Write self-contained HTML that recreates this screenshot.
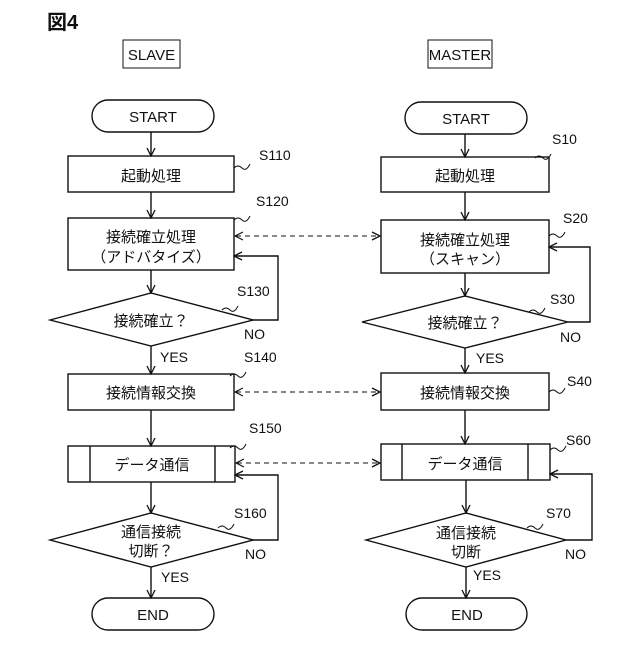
<!DOCTYPE html>
<html><head><meta charset="utf-8"><style>
html,body{margin:0;padding:0;background:#fff}
svg text{font-family:"Liberation Sans Narrow","Liberation Sans","Noto Sans CJK JP",sans-serif;fill:#111}
</style></head><body>
<svg width="640" height="640" viewBox="0 0 640 640" xmlns="http://www.w3.org/2000/svg">
<defs>
<marker id="a" markerWidth="10" markerHeight="10" refX="9" refY="5" orient="auto" markerUnits="userSpaceOnUse">
<path d="M1,1 L9,5 L1,9" fill="none" stroke="#111" stroke-width="1.3"/></marker>
</defs>
<g fill="none" stroke="#111" stroke-width="1.4">
<!-- slave -->
<rect x="123" y="40" width="57" height="28" stroke-width="1"/>
<rect x="92" y="100" width="122" height="32" rx="16"/>
<rect x="68" y="156" width="166" height="36"/>
<rect x="68" y="218" width="166" height="52"/>
<polygon points="50,320 151,293 253,320 151,346"/>
<rect x="68" y="374" width="166" height="36"/>
<rect x="68" y="446" width="167" height="36"/>
<line x1="90" y1="446" x2="90" y2="482"/><line x1="215" y1="446" x2="215" y2="482"/>
<polygon points="50,540 151,513 253,540 151,567"/>
<rect x="92" y="598" width="122" height="32" rx="16"/>
<line x1="151" y1="132" x2="151" y2="156" marker-end="url(#a)"/>
<line x1="151" y1="192" x2="151" y2="218" marker-end="url(#a)"/>
<line x1="151" y1="270" x2="151" y2="293" marker-end="url(#a)"/>
<line x1="151" y1="346" x2="151" y2="374" marker-end="url(#a)"/>
<line x1="151" y1="410" x2="151" y2="446" marker-end="url(#a)"/>
<line x1="151" y1="482" x2="151" y2="513" marker-end="url(#a)"/>
<line x1="151" y1="567" x2="151" y2="598" marker-end="url(#a)"/>
<polyline points="253,320 278,320 278,256 234,256" marker-end="url(#a)"/>
<polyline points="253,540 278,540 278,475 235,475" marker-end="url(#a)"/>
<!-- master -->
<rect x="428" y="40" width="64" height="28" stroke-width="1"/>
<rect x="405" y="102" width="122" height="32" rx="16"/>
<rect x="381" y="157" width="168" height="35"/>
<rect x="381" y="220" width="168" height="53"/>
<polygon points="362,322 465,296 568,322 465,348"/>
<rect x="381" y="373" width="168" height="37"/>
<rect x="381" y="444" width="169" height="36"/>
<line x1="402" y1="444" x2="402" y2="480"/><line x1="528" y1="444" x2="528" y2="480"/>
<polygon points="366,540 466,513 566,540 466,567"/>
<rect x="406" y="598" width="121" height="32" rx="16"/>
<line x1="465" y1="134" x2="465" y2="157" marker-end="url(#a)"/>
<line x1="465" y1="192" x2="465" y2="220" marker-end="url(#a)"/>
<line x1="465" y1="273" x2="465" y2="296" marker-end="url(#a)"/>
<line x1="465" y1="348" x2="465" y2="373" marker-end="url(#a)"/>
<line x1="465" y1="410" x2="465" y2="444" marker-end="url(#a)"/>
<line x1="466" y1="480" x2="466" y2="513" marker-end="url(#a)"/>
<line x1="466" y1="567" x2="466" y2="598" marker-end="url(#a)"/>
<polyline points="568,322 590,322 590,247 549,247" marker-end="url(#a)"/>
<polyline points="566,540 592,540 592,474 550,474" marker-end="url(#a)"/>
<!-- dashed -->
<g stroke-dasharray="5,4" stroke-width="1.1">
<line x1="236" y1="236" x2="380" y2="236" marker-end="url(#a)" marker-start="url(#b)"/>
<line x1="236" y1="392" x2="380" y2="392" marker-end="url(#a)"/>
<line x1="237" y1="463" x2="380" y2="463" marker-end="url(#a)"/>
</g>
<g stroke-width="1.1">
<path d="M243,232 L235,236 L243,240"/><path d="M243,388 L235,392 L243,396"/><path d="M244,459 L236,463 L244,467"/>
</g>
<!-- squiggles -->
<g stroke-width="1">
<path d="M234,168 q4,-4 8,0 t8,-4"/>
<path d="M234,220 q4,-4 8,0 t8,-4"/>
<path d="M222,310 q4,-4 8,0 t8,-4"/>
<path d="M230,376 q4,-4 8,0 t8,-4"/>
<path d="M230,448 q4,-4 8,0 t8,-4"/>
<path d="M218,528 q4,-4 8,0 t8,-4"/>
<path d="M535,158 q4,-4 8,0 t8,-4"/>
<path d="M549,236 q4,-4 8,0 t8,-4"/>
<path d="M529,312 q4,-4 8,0 t8,-4"/>
<path d="M549,392 q4,-4 8,0 t8,-4"/>
<path d="M550,450 q4,-4 8,0 t8,-4"/>
<path d="M527,528 q4,-4 8,0 t8,-4"/>
</g>
</g>
<g font-size="15">
<text x="47" y="29" font-size="20" font-weight="bold">図4</text>
<text x="151.5" y="60" text-anchor="middle">SLAVE</text>
<text x="460" y="60" text-anchor="middle">MASTER</text>
<text x="153" y="122" text-anchor="middle">START</text>
<text x="466" y="124" text-anchor="middle">START</text>
<text x="151" y="181" text-anchor="middle">起動処理</text>
<text x="465" y="181" text-anchor="middle">起動処理</text>
<text x="151" y="242" text-anchor="middle">接続確立処理</text>
<text x="151" y="262" text-anchor="middle">（アドバタイズ）</text>
<text x="465" y="245" text-anchor="middle">接続確立処理</text>
<text x="465" y="264" text-anchor="middle">（スキャン）</text>
<text x="151" y="326" text-anchor="middle">接続確立？</text>
<text x="465" y="328" text-anchor="middle">接続確立？</text>
<text x="151" y="398" text-anchor="middle">接続情報交換</text>
<text x="465" y="398" text-anchor="middle">接続情報交換</text>
<text x="152" y="470" text-anchor="middle">データ通信</text>
<text x="465" y="469" text-anchor="middle">データ通信</text>
<text x="151" y="537" text-anchor="middle">通信接続</text>
<text x="151" y="556" text-anchor="middle">切断？</text>
<text x="466" y="538" text-anchor="middle">通信接続</text>
<text x="466" y="557" text-anchor="middle">切断</text>
<text x="153" y="620" text-anchor="middle">END</text>
<text x="467" y="620" text-anchor="middle">END</text>
<g font-size="14">
<text x="259" y="160">S110</text><text x="256" y="206">S120</text>
<text x="237" y="296">S130</text><text x="244" y="362">S140</text>
<text x="249" y="433">S150</text><text x="234" y="518">S160</text>
<text x="552" y="144">S10</text><text x="563" y="223">S20</text>
<text x="550" y="304">S30</text><text x="567" y="386">S40</text>
<text x="566" y="445">S60</text><text x="546" y="518">S70</text>
<text x="244" y="339">NO</text><text x="245" y="559">NO</text>
<text x="560" y="342">NO</text><text x="565" y="559">NO</text>
<text x="160" y="362">YES</text><text x="161" y="582">YES</text>
<text x="476" y="363">YES</text><text x="473" y="580">YES</text>
</g>
</g>
</svg>
</body></html>
